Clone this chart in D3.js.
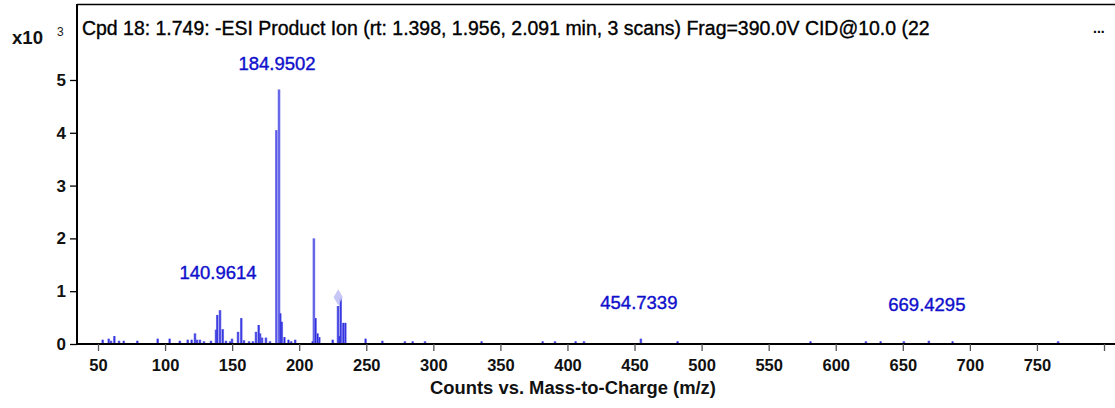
<!DOCTYPE html>
<html>
<head>
<meta charset="utf-8">
<script src="https://cdn.jsdelivr.net/npm/d3@7"></script>
<style>
  html, body { margin: 0; padding: 0; background: #fff; }
  svg { display: block; font-family: "Liberation Sans", Arial, sans-serif; }
</style>
</head>
<body>
<svg id="chart" width="1115" height="408"></svg>
<script>
// ---- data ----
const titleText = "Cpd 18: 1.749: -ESI Product Ion (rt: 1.398, 1.956, 2.091 min, 3 scans) Frag=390.0V CID@10.0 (22";
const xLabel = "Counts vs. Mass-to-Charge (m/z)";
const xTicks = [50,100,150,200,250,300,350,400,450,500,550,600,650,700,750,800];
const xTickLabels = ["50","100","150","200","250","300","350","400","450","500","550","600","650","700","750",""];
const yTicks = [0,1000,2000,3000,4000,5000];
const yTickLabels = ["0","1","2","3","4","5"];
const mz = [53.5,58.0,59.7,62.2,65.7,69.2,79.3,94.5,103.4,111.0,116.9,119.8,122.3,123.8,126.0,129.0,134.2,
  138.0,138.9,140.96,143.0,145.4,148.5,149.9,154.4,156.8,158.8,162.6,165.5,167.8,169.8,170.8,172.3,175.2,178.2,
  182.95,184.95,185.9,187.0,189.0,192.0,194.0,197.0,
  210.0,210.95,212.2,213.7,215.0,225.0,228.95,229.9,230.95,232.9,234.4,249.5,262.0,278.8,284.6,293.8,
  336.0,381.5,390.7,406.1,412.3,454.73,482.1,581.2,622.5,633.5,650.8,669.43,687.1,765.8];
const counts = [80,100,60,150,60,60,60,100,100,60,80,80,200,80,80,50,60,
  270,550,640,280,60,50,100,230,490,70,50,50,230,360,200,120,120,50,
  4050,4820,580,420,130,80,50,80,
  50,2000,490,200,130,80,720,150,860,400,400,100,60,50,50,50,
  50,50,50,50,50,100,50,50,50,50,50,60,50,50];
const peakLabels = ["184.9502","140.9614","454.7339","669.4295"];
const peakLabelMz = [184.95,140.96,454.73,669.43];
const peakLabelCounts = [5190,1230,660,625];
const precursorMz = [229.1];
const precursorCounts = [885];

// ---- layout ----
const FONT = "'Liberation Sans', Arial, sans-serif";
const svg = d3.select("#chart");
const x = d3.scaleLinear().domain([34.34, 808.2]).range([77, 1115]);
const y = d3.scaleLinear().domain([0, 6439]).range([344, 4]);

function fitWidth(sel, base, target) {
  sel.attr("font-size", base);
  const w = sel.node().getComputedTextLength();
  sel.attr("font-size", base * target / w);
  return sel;
}

// frame top line
svg.append("line").attr("x1", 77).attr("x2", 1115).attr("y1", 4.5).attr("y2", 4.5)
  .attr("stroke", "#000").attr("stroke-width", 1.5);

// peaks
const peaks = mz.map((m, i) => ({ m, c: counts[i] }));
svg.append("g").selectAll("line").data(peaks).join("line")
  .attr("x1", d => x(d.m)).attr("x2", d => x(d.m))
  .attr("y1", y(0)).attr("y2", d => y(d.c))
  .attr("stroke", "#7a7aec").attr("stroke-width", 2.6);
svg.append("g").selectAll("line").data(peaks).join("line")
  .attr("x1", d => x(d.m)).attr("x2", d => x(d.m))
  .attr("y1", y(0)).attr("y2", d => y(d.c))
  .attr("stroke", "#1f1fdc").attr("stroke-width", 1)
  .attr("stroke-opacity", d => d.c > 1500 ? 0.4 : 0.9);

// precursor diamond
svg.append("g").selectAll("path").data(precursorMz.map((m, i) => ({ m, c: precursorCounts[i] }))).join("path")
  .attr("d", d3.symbol().type(d3.symbolDiamond).size(75))
  .attr("transform", d => `translate(${x(d.m)},${y(d.c)})`)
  .attr("fill", "#bdbdf5").attr("fill-opacity", 0.85);

// x axis
const xAxis = d3.axisBottom(x).tickValues(xTicks).tickSize(7).tickPadding(8)
  .tickFormat((d, i) => xTickLabels[i]);
const gx = svg.append("g").attr("transform", `translate(0,${y(0)})`).call(xAxis);
gx.select(".domain").attr("stroke-width", 2.2).attr("d", "M77,0H1115");
gx.selectAll(".tick line").attr("stroke", "#555").attr("stroke-width", 1.3);
gx.selectAll("text").attr("font-size", 16.5).attr("font-weight", "bold").attr("fill", "#111")
  .attr("font-family", FONT);

// y axis
const yAxis = d3.axisLeft(y).tickValues(yTicks).tickSize(7).tickPadding(4)
  .tickFormat((d, i) => yTickLabels[i]);
const gy = svg.append("g").attr("transform", `translate(77,0)`).call(yAxis);
gy.select(".domain").attr("stroke-width", 2).attr("d", "M0,4V345");
gy.selectAll(".tick line").attr("stroke", "#000").attr("stroke-width", 1.3);
gy.selectAll("text").attr("font-size", 17).attr("font-weight", "bold").attr("fill", "#111")
  .attr("font-family", FONT);

// exponent label
fitWidth(svg.append("text").attr("x", 12).attr("y", 44).attr("font-weight", "bold").attr("fill", "#111").text("x10"), 16, 31);
svg.append("text").attr("x", 57).attr("y", 36).attr("font-size", 12).attr("fill", "#222").text("3");

// title
fitWidth(svg.append("text").attr("x", 82).attr("y", 35).attr("fill", "#000")
  .attr("stroke", "#000").attr("stroke-width", 0.35).text(titleText), 16, 848);
svg.append("text").attr("x", 1093).attr("y", 33).attr("font-size", 14).attr("font-weight", "bold").text("...");

// peak labels
svg.append("g").selectAll("text").data(peakLabels).join("text")
  .attr("x", (d, i) => x(peakLabelMz[i]) - 2)
  .attr("y", (d, i) => y(peakLabelCounts[i]))
  .attr("text-anchor", "middle").attr("font-size", 18.5).attr("fill", "#1010cc")
  .attr("stroke", "#1010cc").attr("stroke-width", 0.4)
  .text(d => d);

// axis title
fitWidth(svg.append("text").attr("x", 573).attr("y", 394).attr("text-anchor", "middle")
  .attr("font-weight", "bold").attr("fill", "#111").text(xLabel), 16, 286);
</script>
</body>
</html>
